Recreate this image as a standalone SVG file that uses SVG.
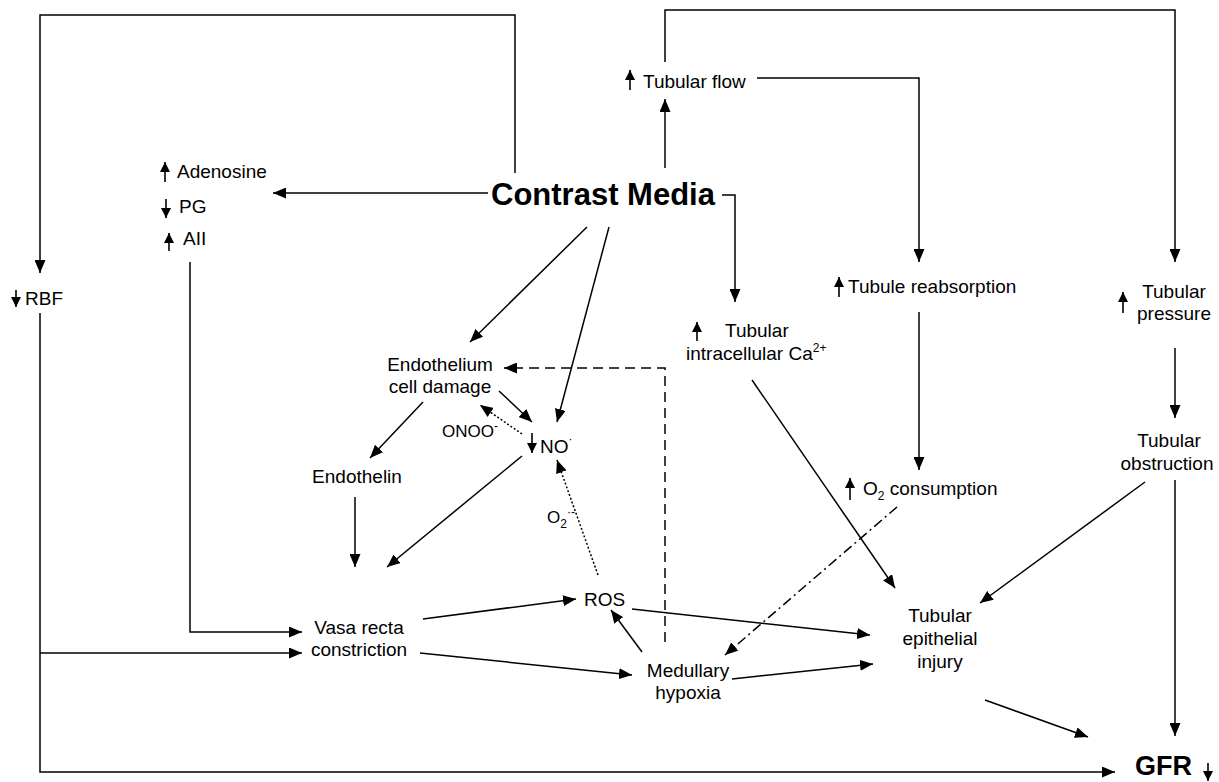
<svg xmlns="http://www.w3.org/2000/svg" width="1219" height="782" viewBox="0 0 1219 782">
<defs>
<marker id="ah" markerUnits="userSpaceOnUse" markerWidth="13" markerHeight="11" viewBox="0 0 13 11" refX="13" refY="5.5" orient="auto"><path d="M0,0 L13,5.5 L0,11 z" fill="#000"/></marker>
<marker id="sa" markerUnits="userSpaceOnUse" markerWidth="10" markerHeight="10" viewBox="0 0 10 10" refX="10" refY="5" orient="auto"><path d="M0,0 L10,5 L0,10 z" fill="#000"/></marker>
<style>
text{font-family:"Liberation Sans",Arial,sans-serif;font-size:19px;fill:#000}
.b{font-weight:bold;font-size:31px}
.g{font-weight:bold;font-size:27px}
.c{stroke:#000;stroke-width:1.5;fill:none;marker-end:url(#ah)}
.s{stroke:#000;stroke-width:1.6;fill:none;marker-end:url(#sa)}
.dot{stroke-dasharray:2 2}
.dash{stroke-dasharray:10 6}
.dd{stroke-dasharray:10 4 2 4}
.m{text-anchor:middle}
.sup{font-size:12px}
</style>
</defs>
<rect width="1219" height="782" fill="#fff"/>
<g id="connectors">
<path class="c" d="M488,193 L273,193"/>
<path class="c" d="M515,173 V15 H40 V273"/>
<path class="c" d="M665,62 V10 H1175 V262"/>
<path class="c" d="M665,168 V99"/>
<path class="c" d="M757,78 H919 V262"/>
<path class="c" d="M722,195 H735 V302"/>
<path class="c" d="M587,227 L470,342"/>
<path class="c" d="M609,227 L557,422"/>
<path class="c" d="M190,262 V632 H302"/>
<path class="c" d="M40,313 V772 H1115"/>
<path class="c" d="M40,653 H302"/>
<path class="c" d="M919,312 V470"/>
<path class="c" d="M1175,348 V418"/>
<path class="c" d="M1175,480 V736"/>
<path class="c" d="M1145,482 L980,603"/>
<path class="c" d="M752,380 L895,588"/>
<path class="c" d="M499,391 L532,422"/>
<path class="c" d="M423,402 L370,458"/>
<path class="c" d="M355,497 V567"/>
<path class="c" d="M522,456 L387,567"/>
<path class="c" d="M423,619 L576,599"/>
<path class="c" d="M420,653 L632,675"/>
<path class="c" d="M642,652 L611,610"/>
<path class="c" d="M632,609 L870,635"/>
<path class="c" d="M732,679 L873,664"/>
<path class="c" d="M985,700 L1088,737"/>
<path class="c dot" d="M522,434 L480,405"/>
<path class="c dot" d="M598,575 L557,460"/>
<path class="c dash" d="M665,642 V368 H504"/>
<path class="c dd" d="M897,507 L725,655"/>
</g>
<g id="contrast"><text class="b" x="491" y="205">Contrast Media</text></g>
<g id="adenosine"><path class="s" d="M165,182 V162"/><text x="177" y="178">Adenosine</text></g>
<g id="pg"><path class="s" d="M166,199 V218"/><text x="179" y="213">PG</text></g>
<g id="aii"><path class="s" d="M169,251 V233"/><text x="183" y="245">AII</text></g>
<g id="rbf"><path class="s" d="M16,290 V307"/><text x="25" y="305">RBF</text></g>
<g id="tubflow"><path class="s" d="M630,90 V70"/><text x="643" y="88">Tubular flow</text></g>
<g id="reabs"><path class="s" d="M839,297 V277"/><text x="848" y="293">Tubule reabsorption</text></g>
<g id="pressure"><path class="s" d="M1123,313 V292"/><text class="m" x="1174" y="298">Tubular</text><text class="m" x="1174" y="320">pressure</text></g>
<g id="obstruction"><text class="m" x="1169" y="447">Tubular</text><text class="m" x="1167" y="470">obstruction</text></g>
<g id="calcium"><path class="s" d="M697,341 V322"/><text x="725" y="337">Tubular</text><text x="686" y="360">intracellular Ca<tspan class="sup" dy="-8">2+</tspan></text></g>
<g id="o2cons"><path class="s" d="M850,500 V478"/><text x="863" y="495">O<tspan class="sup" dy="5">2</tspan><tspan dy="-5"> consumption</tspan></text></g>
<g id="endothelium"><text class="m" x="440" y="371">Endothelium</text><text class="m" x="440" y="393">cell damage</text></g>
<g id="onoo"><text x="442" y="437" style="font-size:17px">ONOO<tspan class="sup" dy="-7">-</tspan></text></g>
<g id="no"><path class="s" d="M532,433 V453"/><text x="540" y="453">NO<tspan class="sup" dy="-10">·</tspan></text></g>
<g id="endothelin"><text class="m" x="357" y="483">Endothelin</text></g>
<g id="o2rad"><text x="547" y="523" style="font-size:17px">O<tspan class="sup" dy="5">2</tspan><tspan class="sup" dy="-12">·-</tspan></text></g>
<g id="vasa"><text class="m" x="359" y="634">Vasa recta</text><text class="m" x="359" y="656">constriction</text></g>
<g id="ros"><text x="584" y="606">ROS</text></g>
<g id="hypoxia"><text class="m" x="688" y="677">Medullary</text><text class="m" x="688" y="699">hypoxia</text></g>
<g id="epithelial"><text class="m" x="940" y="622">Tubular</text><text class="m" x="940" y="645">epithelial</text><text class="m" x="940" y="668">injury</text></g>
<g id="gfr"><text class="g" x="1135" y="775">GFR</text><path class="s" d="M1208,763 V781"/></g>
</svg>
